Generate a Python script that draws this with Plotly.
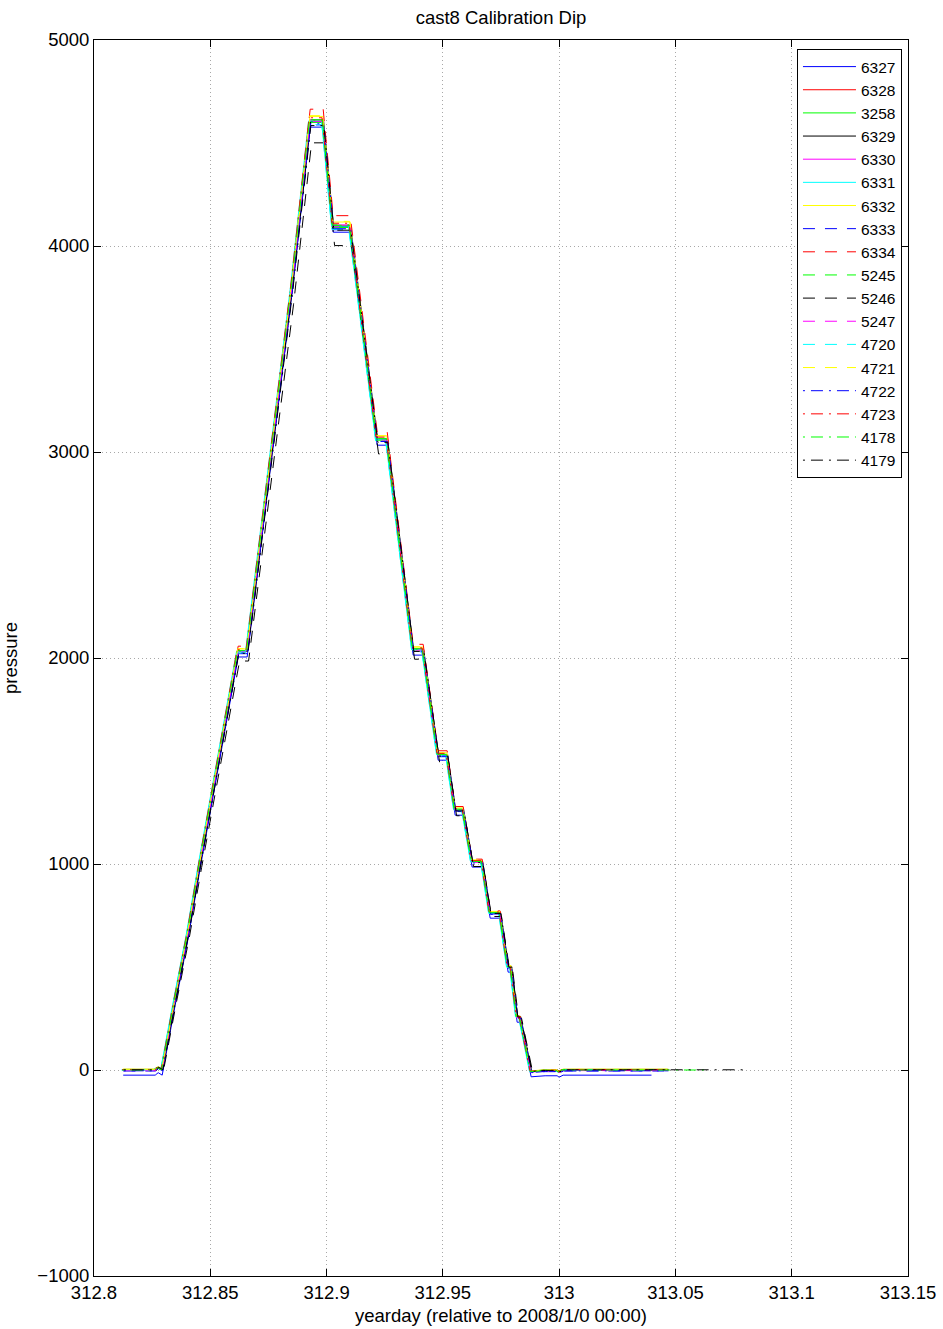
import plotly.graph_objects as go

# Shared dip profile (yearday, dbar) followed by every instrument on the frame
profile_day = [312.81225, 312.82601, 312.82730, 312.82902, 312.83461, 312.84020,
               312.84536, 312.86169, 312.86556, 312.87545, 312.88491, 312.89265,
               312.89824, 312.90254, 312.90985, 312.92145, 312.92575, 312.93693,
               312.94123, 312.94768, 312.95155, 312.95499, 312.95843, 312.96230,
               312.96660, 312.97004, 312.97433, 312.97777, 312.97906, 312.98164,
               312.98293, 312.98766, 312.99368, 312.99884, 312.99970, 313.00142,
               313.02000, 313.09000]
profile_pres = [0, 0, 12, 0, 340, 665,
                1005, 2030, 2030, 2950, 3801, 4602,
                4602, 4092, 4092, 3058, 3058, 2039,
                2039, 1529, 1529, 1262, 1262, 1010,
                1010, 762, 762, 500, 500, 257,
                257, -8, -3, -3, -10, 0,
                0, 0]

# Instruments and their individual readings relative to the shared profile
serials = ["6327", "6328", "3258", "6329", "6330", "6331", "6332", "6333", "6334",
           "5245", "5246", "5247", "4720", "4721", "4722", "4723", "4178", "4179"]
gain_pct = [0.0, 0.2, -0.1, 0.0, 0.3, 0.1, 0.5, -0.2, 1.35,
            0.2, -2.2, 0.1, -0.3, 0.6, -0.1, 0.4, 0.2, -0.4]
offset_dbar = [-25, 0, 2, 3, -2, 0, 4, -5, 0,
               2, 0, -3, 1, 3, -4, 2, 0, 1]
clock_shift = [0.0003, 0.0, -0.0002, 0.0005, 0.0001, -0.0004, 0.0002, 0.0004, 0.0003,
               -0.0001, 0.0009, 0.0002, -0.0003, 0.0001, 0.0005, -0.0002, 0.0, 0.0006]
record_end = [313.0397, 313.0462, 313.0455, 313.0470, 313.0465, 313.0450, 313.0468,
              313.0460, 313.0472, 313.0448, 313.0466, 313.0458, 313.0452, 313.0464,
              313.0470, 313.0461, 313.0633, 313.0797]

# MATLAB default colour / line-style cycle
line_colors = ["#0000ff", "#ff0000", "#00ff00", "#000000", "#ff00ff", "#00ffff", "#ffff00"]
line_styles = ["solid", "12px,10px", "2px,6px,12px,6px"]

x_ticks = [312.8, 312.85, 312.9, 312.95, 313.0, 313.05, 313.1, 313.15]
x_tick_text = ["312.8", "312.85", "312.9", "312.95", "313", "313.05", "313.1", "313.15"]
y_ticks = [-1000, 0, 1000, 2000, 3000, 4000, 5000]
y_tick_text = ["\u22121000", "0", "1000", "2000", "3000", "4000", "5000"]

FONT = "Liberation Sans, Arial, Helvetica, sans-serif"

fig = go.Figure()
for i, name in enumerate(serials):
    xs, ys = [], []
    for t, p in zip(profile_day, profile_pres):
        t2 = t + clock_shift[i]
        if t2 > record_end[i]:
            xs.append(record_end[i])
            ys.append(p * (1 + gain_pct[i] / 100) + offset_dbar[i])
            break
        xs.append(t2)
        ys.append(p * (1 + gain_pct[i] / 100) + offset_dbar[i])
    fig.add_trace(go.Scatter(
        x=xs, y=ys, mode="lines", name=name,
        line=dict(color=line_colors[i % 7], width=1, dash=line_styles[i // 7]),
    ))

axis_common = dict(
    showline=True, linecolor="black", linewidth=1, mirror="ticks",
    ticks="inside", ticklen=7, tickcolor="black", tickwidth=1,
    showgrid=True, gridcolor="#a8a8a8", gridwidth=1, griddash="1px,3px",
    zeroline=False, automargin=False,
    tickfont=dict(family=FONT, size=18.5, color="black"),
)

fig.update_layout(
    width=943, height=1329,
    margin=dict(l=94, r=35, t=40, b=53),
    paper_bgcolor="white", plot_bgcolor="white",
    font=dict(family=FONT, size=18.5, color="black"),
    title=dict(text="cast8 Calibration Dip", x=0.5, xref="paper",
               y=1 - 18 / 1329, yref="container", yanchor="middle",
               automargin=False,
               font=dict(family=FONT, size=18.5, color="black")),
    xaxis=dict(range=[312.8, 313.15], tickvals=x_ticks, ticktext=x_tick_text,
               title=dict(text="yearday (relative to 2008/1/0 00:00)", standoff=6,
                          font=dict(family=FONT, size=18.5, color="black")),
               **axis_common),
    yaxis=dict(range=[-1000, 5000], tickvals=y_ticks, ticktext=y_tick_text,
               title=dict(text="pressure", standoff=18,
                          font=dict(family=FONT, size=18.5, color="black")),
               **axis_common),
    legend=dict(x=0.9926, y=0.9927, xanchor="right", yanchor="top",
                bgcolor="white", bordercolor="black", borderwidth=1,
                font=dict(family=FONT, size=15.5, color="black"),
                itemwidth=53, tracegroupgap=0),
    showlegend=True,
)

fig.write_html("out.html")
